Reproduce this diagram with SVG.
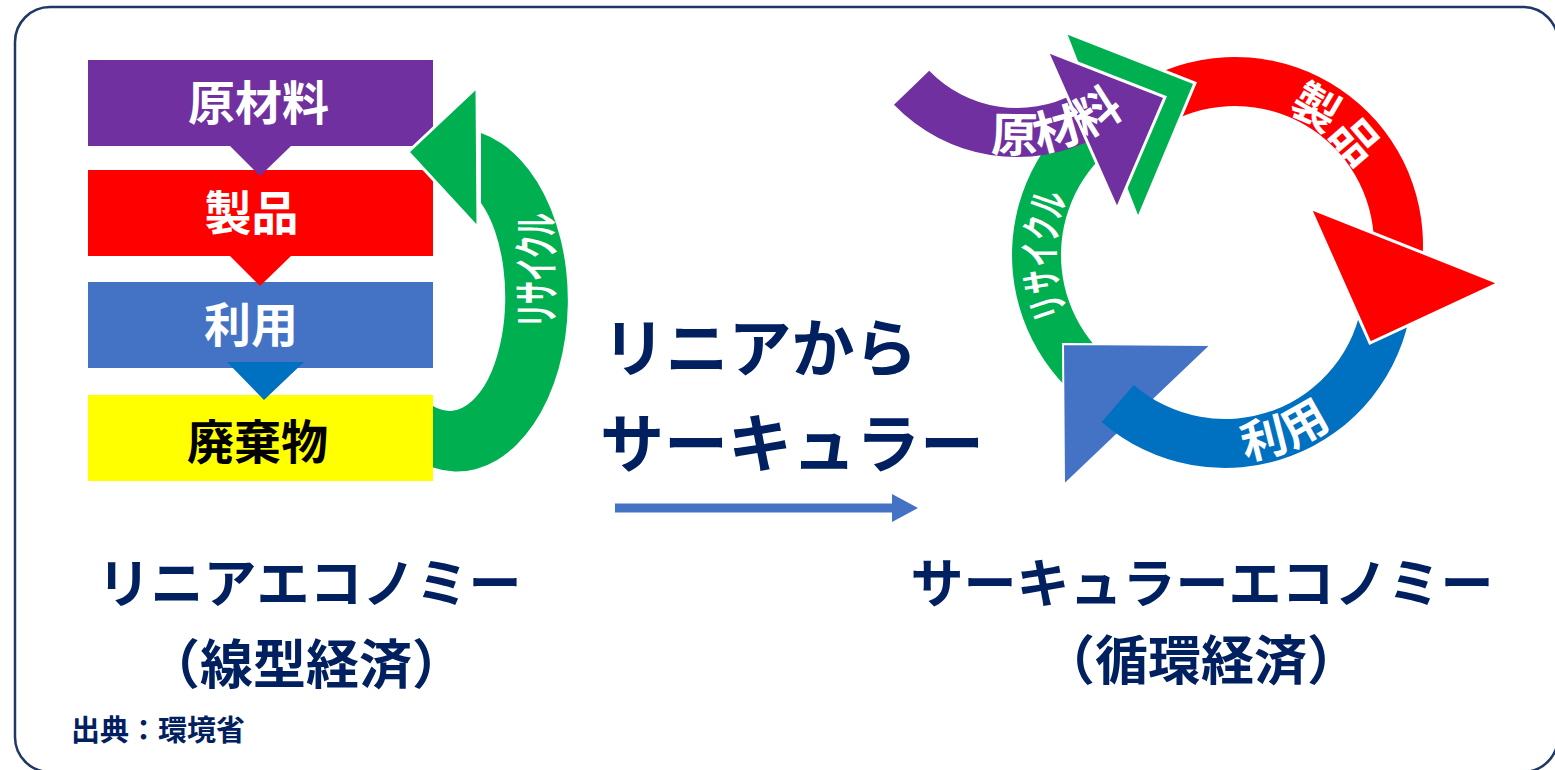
<svg xmlns="http://www.w3.org/2000/svg" width="1555" height="770" viewBox="0 0 1555 770">
<style>
.jp{font-family:"Noto Sans CJK JP","Noto Sans CJK SC",sans-serif;font-weight:700}
.wt{fill:#fff}
.nv{fill:#002060}
.ah{stroke:#fff;stroke-width:3;stroke-linejoin:miter}
</style>
<defs>
<path id="pSeihin" d="M1163.5,121.16 A143,143 0 0 1 1369.38,293.91"/>
<path id="pRiyou" d="M1090.6,399.7 A180,180 0 0 0 1404.92,274.66"/>
<path id="pRecycle" d="M1150.41,391.26 A145,145 0 0 1 1150.41,118.74"/>
<path id="pGenzai" d="M882.4,83.1 A166,166 0 0 0 1182.55,-1.84"/>
</defs>
<rect x="15" y="7" width="1543" height="765" rx="35" fill="#fff" stroke="#1f3864" stroke-width="2.5"/>

<g id="linear">
 <g id="box-genzairyo"><rect x="88" y="60" width="345" height="86" fill="#7030a0"/><text class="jp wt" x="258.5" y="120" font-size="47" text-anchor="middle">原材料</text></g>
 <g id="box-seihin"><rect x="88" y="170" width="345" height="86" fill="#ff0000"/><text class="jp wt" x="251.5" y="230" font-size="47" text-anchor="middle">製品</text></g>
 <g id="box-riyou"><rect x="88" y="282" width="345" height="86" fill="#4472c4"/><text class="jp wt" x="251" y="342" font-size="47" text-anchor="middle">利用</text></g>
 <g id="box-haikibutsu"><rect x="88" y="395" width="345" height="86" fill="#ffff00"/><text class="jp" x="257.5" y="459" font-size="47" text-anchor="middle" fill="#000">廃棄物</text></g>
</g>

<g id="connectors">
 <polygon points="230,146 291,146 260,176" fill="#7030a0"/>
 <polygon points="230,256 291,256 260,286" fill="#ff0000"/>
 <polygon points="227,362 304,362 264,400" fill="#0070c0"/>
 <g id="recycle-linear">
  <path d="M433,467.5 A110,170 0 0 0 481,133 L481,203 A56,114 0 0 1 433,406 Z" fill="#00b050"/>
  <polygon class="ah" points="477,87 408,152 478,228" fill="#00b050"/>
  <text class="jp wt" transform="translate(553,270) rotate(-90)" font-size="46" text-anchor="middle" textLength="114" lengthAdjust="spacingAndGlyphs">リサイクル</text>
 </g>
 <g id="shift-arrow">
  <line x1="615" y1="508" x2="894" y2="508" stroke="#4472c4" stroke-width="9"/>
  <polygon points="892,494 918,508 892,522" fill="#4472c4"/>
 </g>
</g>

<g id="title-mid">
 <text class="jp nv" x="760" y="371" font-size="63" text-anchor="middle">リニアから</text>
 <text class="jp nv" x="792" y="467" font-size="64" text-anchor="middle">サーキュラー</text>
</g>

<g id="circular">
 <g id="arc-recycle"><path d="M1092.17,409 A188,188 0 0 1 1100.38,95.57 L1126.34,137.12 A139,139 0 0 0 1120.27,368.86 Z" fill="#00b050"/></g>
 <g id="arc-seihin"><path d="M1155.55,74.61 A188,188 0 0 1 1422.74,254.84 L1373.81,252.28 A139,139 0 0 0 1176.26,119.02 Z" fill="#ff0000"/></g>
 <g id="head-riyou"><polygon points="1063,344 1211,345 1064,485" fill="#4472c4" stroke="#fff" stroke-width="2"/></g>
 <g id="arc-riyou"><path d="M1411.17,306.16 A188,188 0 0 1 1101.66,421.89 L1133.81,384.9 A139,139 0 0 0 1362.65,299.34 Z" fill="#0070c0"/></g>
 <g id="head-seihin"><polygon class="ah" points="1310,208 1499,283 1370,343" fill="#ff0000"/></g>
 <g id="head-recycle"><polygon class="ah" points="1065,32 1195,83 1138,219" fill="#00b050"/></g>
 <g id="arc-genzairyo"><path d="M893.99,104.79 A171,171 0 0 0 1097.28,136.98 L1074.28,93.72 A122,122 0 0 1 929.24,70.75 Z" fill="#7030a0"/></g>
 <g id="head-genzairyo"><polygon class="ah" points="1047,51 1165,97 1117,209" fill="#7030a0"/></g>
 <text class="jp wt" font-size="46" letter-spacing="1"><textPath href="#pSeihin" startOffset="50%" text-anchor="middle">製品</textPath></text>
 <text class="jp wt" font-size="46" letter-spacing="2"><textPath href="#pRiyou" startOffset="50%" text-anchor="middle">利用</textPath></text>
 <text class="jp wt" font-size="42" textLength="120" lengthAdjust="spacingAndGlyphs"><textPath href="#pRecycle" startOffset="50%" text-anchor="middle">リサイクル</textPath></text>
 <text class="jp wt" font-size="47" letter-spacing="1"><textPath href="#pGenzai" startOffset="50%" text-anchor="middle">原材料</textPath></text>
</g>

<g id="captions">
 <text class="jp nv" x="309.5" y="603" font-size="53" text-anchor="middle">リニアエコノミー</text>
 <text class="jp nv" x="306" y="684" font-size="53" text-anchor="middle">（線型経済）</text>
 <text class="jp nv" x="1202" y="603" font-size="53" text-anchor="middle">サーキュラーエコノミー</text>
 <text class="jp nv" x="1201" y="680" font-size="53" text-anchor="middle">（循環経済）</text>
 <text class="jp nv" x="71" y="741" font-size="29">出典：環境省</text>
</g>
</svg>
